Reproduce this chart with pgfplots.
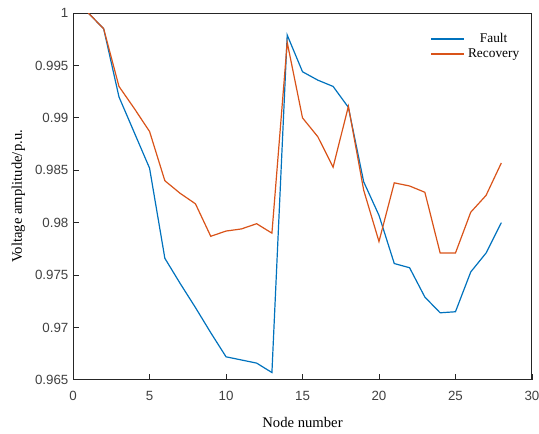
\documentclass[border=0pt]{standalone}
\usepackage{fontspec}
\setmainfont{Liberation Serif}
\newfontfamily\tickfont{Liberation Sans}
\usepackage{pgfplots}
\pgfplotsset{compat=1.18}
\usetikzlibrary{calc}

\definecolor{mblue}{RGB}{0,114,189}
\definecolor{morange}{RGB}{217,83,25}

\begin{document}
\begin{tikzpicture}
\begin{axis}[
  scale only axis,
  width=344pt, height=275pt,
  xmin=0, xmax=30,
  ymin=0.965, ymax=1,
  xtick={0,5,...,30},
  ytick={0.965,0.97,0.975,0.98,0.985,0.99,0.995,1},
  yticklabels={0.965,0.97,0.975,0.98,0.985,0.99,0.995,1},
  xtick pos=left, ytick pos=left,
  tick align=inside,
  major tick length=4.5pt,
  axis line style={line width=0.8pt, black!85},
  tick style={line width=0.6pt, black!85},
  ticklabel style={font=\tickfont\fontsize{10}{12}\selectfont, text=black!75},
  xticklabel style={yshift=-5pt},
  /pgf/number format/assume math mode=true,
  xlabel={Node number},
  ylabel={Voltage amplitude/p.u.},
  label style={font=\fontsize{11}{13}\selectfont},
  xlabel style={at={([yshift=-32pt]axis description cs:0.5,0)}, anchor=center},
  ylabel style={at={([xshift=-41pt]axis description cs:0,0.5)}, anchor=center},
  legend style={draw=none, fill=none,
    at={([xshift=-4pt,yshift=-11pt]axis description cs:1,1)}, anchor=north east,
    font=\fontsize{10}{12}\selectfont, row sep=-1pt},
  legend cell align=left,
  legend image code/.code={\draw[#1, line width=0.9pt] (0pt,0pt) -- (25pt,0pt);},
]
% Fault
\addplot[color=mblue, line width=0.9pt] coordinates {
(1,1.0000) (2,0.9985) (3,0.9920) (4,0.9886) (5,0.9852) (6,0.9766) (7,0.9742)
(8,0.9719) (9,0.9695) (10,0.9672) (11,0.9669) (12,0.9666) (13,0.9657)
(14,0.9979) (15,0.9944) (16,0.9936) (17,0.9930) (18,0.9910) (19,0.9839)
(20,0.9807) (21,0.9761) (22,0.9757) (23,0.9729) (24,0.9714) (25,0.9715)
(26,0.9753) (27,0.9771) (28,0.9800)
};
% Recovery
\addplot[color=morange, line width=0.9pt] coordinates {
(1,1.0000) (2,0.9985) (3,0.9930) (4,0.9909) (5,0.9887) (6,0.9840) (7,0.9828)
(8,0.9818) (9,0.9787) (10,0.9792) (11,0.9794) (12,0.9799) (13,0.9790)
(14,0.9972) (15,0.9900) (16,0.9882) (17,0.9853) (18,0.9911) (19,0.9831)
(20,0.9782) (21,0.9838) (22,0.9835) (23,0.9829) (24,0.9771) (25,0.9771)
(26,0.9810) (27,0.9826) (28,0.9857)
};
\legend{\makebox[3.9em]{Fault}, \makebox[3.9em]{Recovery}}
\end{axis}
\pgfresetboundingbox
\path ($(current axis.south west)+(-54.8pt,-40.5pt)$) rectangle ($(current axis.north east)+(5.3pt,9.8pt)$);
\end{tikzpicture}
\end{document}
